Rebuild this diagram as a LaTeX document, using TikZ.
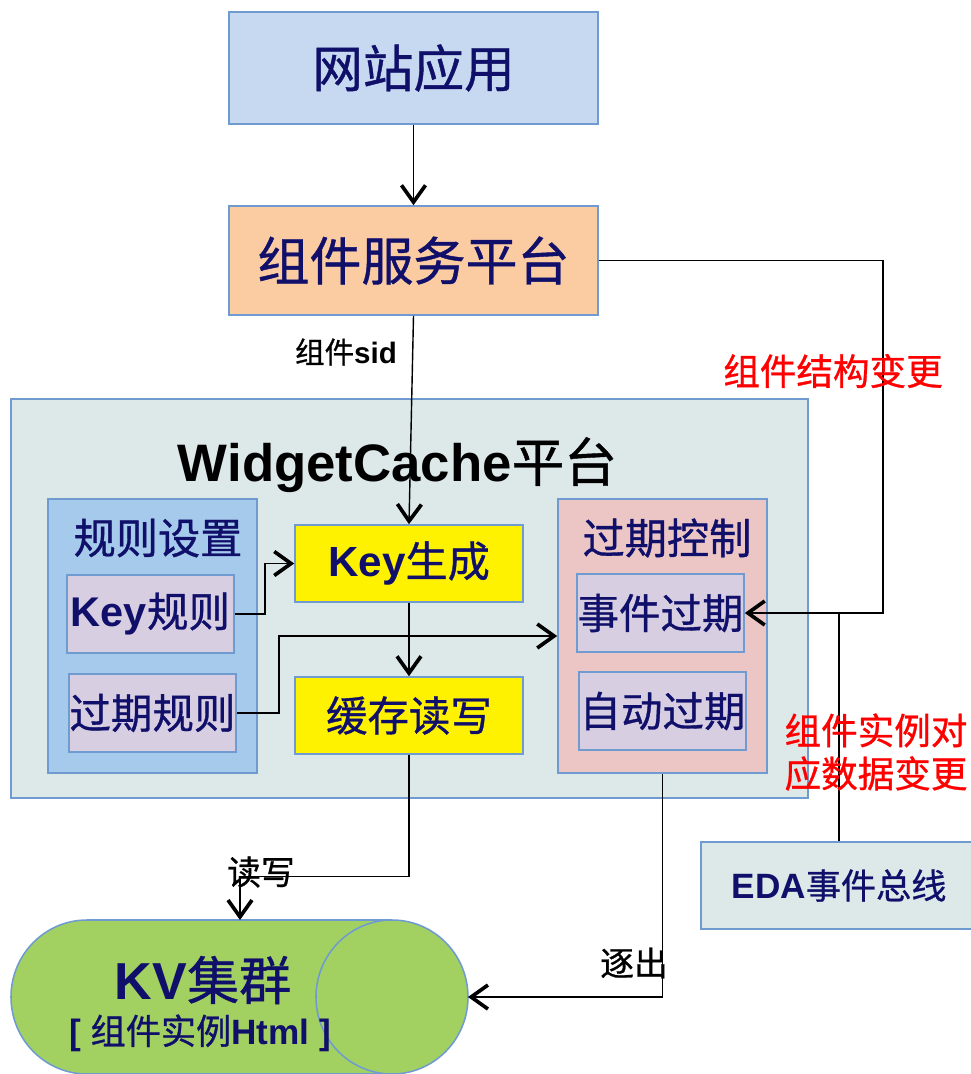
\documentclass[tikz,border=0pt]{standalone}
\usepackage{fontspec}
\setmainfont{Noto Sans CJK SC}[FakeBold=0.8]
\newfontfamily\latf{Liberation Sans}
\usetikzlibrary{arrows.meta}

\definecolor{edgeblue}{HTML}{6F9BD1}
\definecolor{navytext}{HTML}{10106B}
\definecolor{webfill}{HTML}{C6D9F0}
\definecolor{svcfill}{HTML}{FBCBA2}
\definecolor{wcfill}{HTML}{DDE8E9}
\definecolor{rulefill}{HTML}{A6CAEC}
\definecolor{itemfill}{HTML}{D8CEE2}
\definecolor{ctlfill}{HTML}{EBC6C5}
\definecolor{kvfill}{HTML}{A2D161}

\newcommand{\en}[1]{{\latf\bfseries #1}}
\newcommand{\fsz}[1]{\fontsize{#1}{#1}\selectfont}

\begin{document}
\begin{tikzpicture}[x=0.025cm, y=-0.025cm,
	box/.style={draw=edgeblue, line width=1.1pt, inner sep=0pt, text=navytext},
	item/.style={box, fill=itemfill, minimum width=4.175cm, minimum height=1.95cm, font=\fsz{29.5}},
	arr/.style={line width=1pt, -{Straight Barb[length=0.42cm,width=0.6cm,line width=2.6pt]}},
	note/.style={text=red, font=\fsz{26}}]

	\useasboundingbox (0,0) rectangle (971,1074);

	% top
	\node[box, fill=webfill, minimum width=9.225cm, minimum height=2.8cm, font=\fsz{36}] (web) at (413.5,68) {网站应用};
	\node[box, fill=svcfill, minimum width=9.225cm, minimum height=2.725cm, font=\fsz{37}] (svc) at (413.5,260.5) {组件服务平台};

	% WidgetCache
	\node[box, fill=wcfill, minimum width=19.925cm, minimum height=9.975cm] (wc) at (409.5,598.5) {};
	\node[font=\fsz{37.5}] (wctitle) at (397.5,465) {\en{WidgetCache}平台};

	\node[box, fill=rulefill, minimum width=5.225cm, minimum height=6.85cm] (rules) at (152.5,636) {};
	\node[text=navytext, font=\fsz{30}] (rulestitle) at (158,538) {规则设置};
	\node[item] (keyrule) at (150.5,614) {\en{Key}规则};
	\node[item] (exprule) at (152.5,713) {过期规则};

	\node[box, fill=yellow, minimum width=5.7cm, minimum height=1.925cm, font=\fsz{30}] (keygen) at (409,563.5) {\en{Key}生成};
	\node[box, fill=yellow, minimum width=5.7cm, minimum height=1.925cm, font=\fsz{29.5}] (rw) at (409,715.5) {缓存读写};

	\node[box, fill=ctlfill, minimum width=5.225cm, minimum height=6.85cm] (expctl) at (662.5,636) {};
	\node[text=navytext, font=\fsz{30}] (ctltitle) at (667,538) {过期控制};
	\node[item] (evexp) at (660.5,613) {事件过期};
	\node[item] (autoexp) at (662.5,711) {自动过期};

	% bottom
	\node[box, fill=wcfill, minimum width=6.9cm, minimum height=2.175cm, font=\fsz{25}] (eda) at (839,885.5) {\en{EDA}事件总线};

	% KV cylinder
	\draw[draw=edgeblue, line width=1.1pt, fill=kvfill] (87,920) -- (392,920) arc(-90:90:76 and 77) -- (87,1074) arc(90:270:76 and 77) -- cycle;
	\draw[edgeblue, line width=1.1pt] (392,920) arc(270:90:76 and 77);
	\coordinate (kvin) at (240,920);
	\coordinate (kvend) at (468,997);
	\node[text=navytext, font=\fsz{37}] (kvname) at (203,980) {\en{KV}集群};
	\node[text=navytext, font=\fsz{25}] (kvdata) at (200,1033) {\en{[ }组件实例\en{Html ]}};

	% connectors
	\draw[arr] (web) -- (svc);
	\draw[arr] (svc.south) -- (keygen.north);
	\node[font=\fsz{21}] (sidlbl) at (346,352) {组件\en{sid}};
	\draw[arr] (keygen) -- (rw);
	\draw[arr] (keyrule.east) -- ++(30,0) |- (keygen.west);
	\draw[arr] (exprule.east) -- ++(42,0) |- (expctl.west);

	\draw[arr] (rw.south) -- ++(0,121.5) -| (kvin);
	\node[font=\fsz{24}] (rwlbl) at (261,872) {读写};
	\draw[arr] (expctl.south) |- (kvend);
	\node[font=\fsz{24}] (evictlbl) at (634,963) {逐出};

	\coordinate (bend) at (883,613);
	\draw[arr] (svc.east) -| (bend) -- (evexp.east);
	\node[note] (structlbl) at (833,371) {组件结构变更};
	\draw[line width=1pt] (eda.north) -- (eda.north |- evexp.east);
	\node[note, align=center, font=\fontsize{26}{30.6}\selectfont] (datalbl) at (876,752) {组件实例对\\应数据变更};

\end{tikzpicture}
\end{document}
